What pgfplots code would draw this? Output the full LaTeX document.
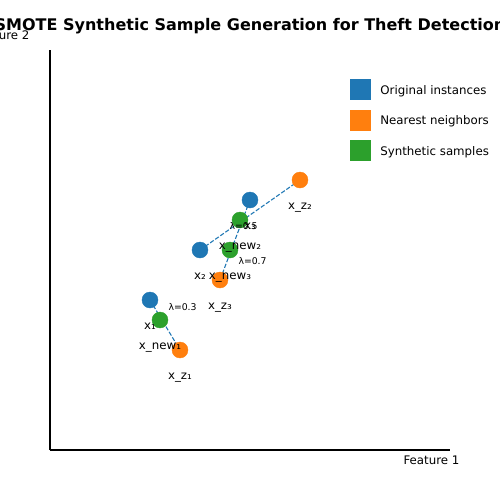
\documentclass[border=0pt]{standalone}
\usepackage{pgfplots}
\pgfplotsset{compat=1.18}
\usepackage{fontspec}
\setmainfont{DejaVu Sans}
\definecolor{tblue}{HTML}{1F77B4}
\definecolor{torange}{HTML}{FF7F0E}
\definecolor{tgreen}{HTML}{2CA02C}
\newcommand\nf{\fontsize{11.8bp}{14bp}\selectfont}
\newcommand\lf{\fontsize{9.3bp}{11bp}\selectfont}
\newcommand\tf{\fontsize{16bp}{19bp}\selectfont}
\begin{document}
\begin{tikzpicture}
\useasboundingbox (-50bp,-50bp) rectangle (450bp,450bp);
\begin{axis}[
  scale only axis, width=400bp, height=400bp,
  xmin=0, xmax=8, ymin=0, ymax=8,
  axis x line*=bottom, axis y line*=left,
  axis line style={-, line width=1.5bp, black},
  xtick=\empty, ytick=\empty,
  clip=false,
  legend style={draw=none, fill=none, at={(0.75,0.9268)}, anchor=north west,
    inner sep=0pt, outer sep=0pt, row sep=10bp, font=\nf,
    nodes={inner sep=0pt, outer sep=0pt}},
  legend cell align=left,
  /tikz/every odd column/.style={column sep=10bp},
]
\addplot[only marks, mark=*, mark size=8bp, color=tblue,
  legend image code/.code={\fill[tblue] (0bp,-8.7bp) rectangle (20bp,11.3bp);}]
  coordinates {(2,3) (3,4) (4,5)};
\addlegendentry{Original instances}
\addplot[only marks, mark=*, mark size=8bp, color=torange,
  legend image code/.code={\fill[torange] (0bp,-8.7bp) rectangle (20bp,11.3bp);}]
  coordinates {(2.6,2) (5,5.4) (3.4,3.4)};
\addlegendentry{Nearest neighbors}
\addplot[only marks, mark=*, mark size=8bp, color=tgreen,
  legend image code/.code={\fill[tgreen] (0bp,-8.7bp) rectangle (20bp,11.3bp);}]
  coordinates {(2.2,2.6) (3.8,4.6) (3.6,4)};
\addlegendentry{Synthetic samples}
% dashed connections
\addplot[tblue, dash pattern=on 4.3bp off 1.9bp, line width=1.1bp, forget plot] coordinates {(2,3) (2.6,2)};
\addplot[tblue, dash pattern=on 4.3bp off 1.9bp, line width=1.1bp, forget plot] coordinates {(3,4) (5,5.4)};
\addplot[tblue, dash pattern=on 4.3bp off 1.9bp, line width=1.1bp, forget plot] coordinates {(4,5) (3.4,3.4)};
% label anchors
\coordinate (a1) at (axis cs:2,3);
\coordinate (a2) at (axis cs:3,4);
\coordinate (a3) at (axis cs:4,5);
\coordinate (b1) at (axis cs:2.6,2);
\coordinate (b2) at (axis cs:5,5.4);
\coordinate (b3) at (axis cs:3.4,3.4);
\coordinate (c1) at (axis cs:2.2,2.6);
\coordinate (c2) at (axis cs:3.8,4.6);
\coordinate (c3) at (axis cs:3.6,4);
\coordinate (l1) at (axis cs:2.3,2.79);
\coordinate (l2) at (axis cs:3.52,4.41);
\coordinate (l3) at (axis cs:3.7,3.71);
\end{axis}
\node[font=\nf, anchor=base, yshift=-29bp] at (a1) {x₁};
\node[font=\nf, anchor=base, yshift=-29bp] at (a2) {x₂};
\node[font=\nf, anchor=base, yshift=-29bp] at (a3) {x₃};
\node[font=\nf, anchor=base, yshift=-29bp] at (b1) {x\_z₁};
\node[font=\nf, anchor=base, yshift=-29bp] at (b2) {x\_z₂};
\node[font=\nf, anchor=base, yshift=-29bp] at (b3) {x\_z₃};
\node[font=\nf, anchor=base, yshift=-29bp] at (c1) {x\_new₁};
\node[font=\nf, anchor=base, yshift=-29bp] at (c2) {x\_new₂};
\node[font=\nf, anchor=base, yshift=-29bp] at (c3) {x\_new₃};
\node[font=\lf, anchor=base west] at (l1) {λ=0.3};
\node[font=\lf, anchor=base west] at (l2) {λ=0.5};
\node[font=\lf, anchor=base west] at (l3) {λ=0.7};
\node[font=\tf\bfseries, anchor=base] at (200bp,419.3bp) {SMOTE Synthetic Sample Generation for Theft Detection};
\node[font=\nf, anchor=base east] at (-17bp,410.5bp) {Feature 2};
\node[font=\nf, anchor=base west] at (350bp,-14bp) {Feature 1};
\end{tikzpicture}
\end{document}
